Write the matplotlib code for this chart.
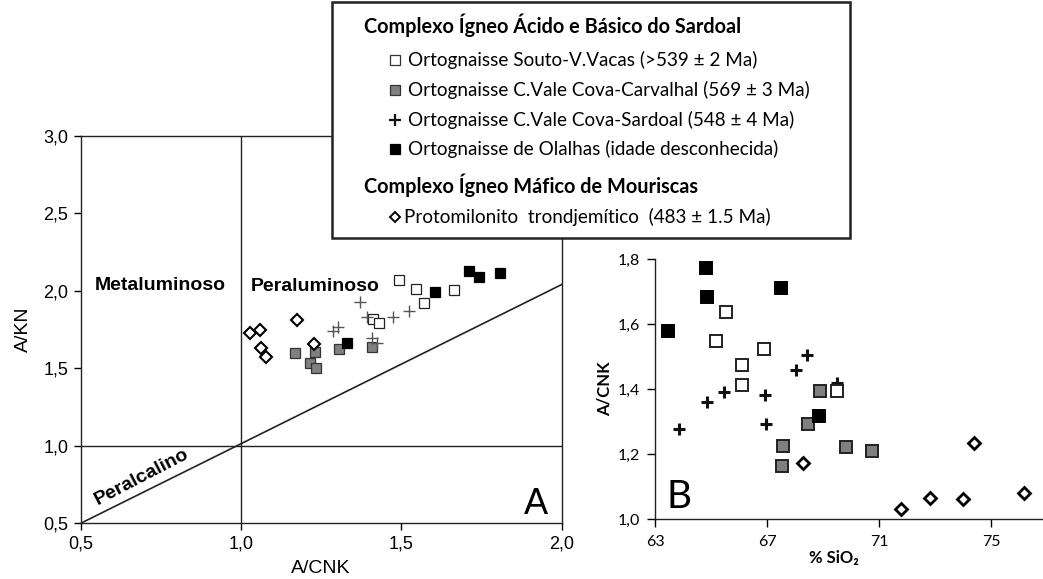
import matplotlib
matplotlib.use("Agg")
import matplotlib.pyplot as plt
from matplotlib.lines import Line2D
from matplotlib.patches import Rectangle

# ---- panel A : A/CNK (x) vs A/KN (y) ----
souto_a_x = [1.494, 1.546, 1.664, 1.572, 1.413, 1.430]
souto_a_y = [2.069, 2.011, 2.003, 1.921, 1.816, 1.794]
carv_a_x = [1.168, 1.230, 1.215, 1.234, 1.307, 1.410]
carv_a_y = [1.596, 1.605, 1.536, 1.502, 1.626, 1.635]
sard_a_x = [1.371, 1.392, 1.475, 1.525, 1.288, 1.301, 1.407, 1.425]
sard_a_y = [1.927, 1.828, 1.828, 1.871, 1.742, 1.768, 1.693, 1.665]
olal_a_x = [1.330, 1.604, 1.711, 1.743, 1.808]
olal_a_y = [1.665, 1.994, 2.129, 2.086, 2.112]
prot_a_x = [1.027, 1.059, 1.063, 1.077, 1.176, 1.229]
prot_a_y = [1.725, 1.745, 1.633, 1.571, 1.811, 1.657]
# peralkaline boundary
bound_x = [0.5, 2.0]
bound_y = [0.5, 2.04]
a_ticks = [0.5, 1.0, 1.5, 2.0]
a_ticklabels = ["0,5", "1,0", "1,5", "2,0"]
a_yticks = [0.5, 1.0, 1.5, 2.0, 2.5, 3.0]
a_yticklabels = ["0,5", "1,0", "1,5", "2,0", "2,5", "3,0"]

# ---- panel B : SiO2 (x) vs A/CNK (y) ----
souto_b_x = [65.54, 65.18, 66.90, 66.10, 66.09, 69.51]
souto_b_y = [1.636, 1.547, 1.523, 1.474, 1.412, 1.395]
carv_b_x = [68.89, 68.46, 67.56, 67.52, 69.80, 70.73]
carv_b_y = [1.393, 1.294, 1.226, 1.163, 1.223, 1.209]
sard_b_x = [63.85, 64.85, 65.48, 66.91, 66.97, 68.04, 68.41, 69.49]
sard_b_y = [1.279, 1.359, 1.392, 1.381, 1.293, 1.460, 1.506, 1.418]
olal_b_x = [64.82, 64.87, 67.48, 63.45, 68.86]
olal_b_y = [1.771, 1.682, 1.711, 1.580, 1.318]
prot_b_x = [68.27, 71.77, 72.82, 74.01, 74.39, 76.18]
prot_b_y = [1.174, 1.033, 1.067, 1.062, 1.236, 1.080]
b_xticks = [63, 67, 71, 75]
b_yticks = [1.0, 1.2, 1.4, 1.6, 1.8]
b_yticklabels = ["1,0", "1,2", "1,4", "1,6", "1,8"]

legend_head1 = "Complexo Ígneo Ácido e Básico do Sardoal"
legend_items1 = ["Ortognaisse Souto-V.Vacas (>539 ± 2 Ma)",
                 "Ortognaisse C.Vale Cova-Carvalhal (569 ± 3 Ma)",
                 "Ortognaisse C.Vale Cova-Sardoal (548 ± 4 Ma)",
                 "Ortognaisse de Olalhas (idade desconhecida)"]
legend_head2 = "Complexo Ígneo Máfico de Mouriscas"
legend_item2 = "Protomilonito  trondjemítico  (483 ± 1.5 Ma)"

ARIAL = "Liberation Sans"
CAL = "Lato"

fig = plt.figure(figsize=(10.43, 5.79), dpi=100)

# ================= panel A =================
axA = fig.add_axes([0.0774, 0.0962, 0.4611, 0.6694])
axA.set_xlim(0.5, 2.0)
axA.set_ylim(0.5, 3.0)
for s in axA.spines.values():
    s.set_linewidth(1.0)
    s.set_color("#222222")
axA.axvline(1.0, color="#222222", lw=1.0)
axA.axhline(1.0, color="#222222", lw=1.0)
axA.plot(bound_x, bound_y, color="#222222", lw=1.2)

sq = dict(ls="none", marker="s", ms=7, mew=0.9)
axA.plot(carv_a_x, carv_a_y, mfc="#808080", mec="#333333", **sq)
axA.plot(souto_a_x, souto_a_y, mfc="white", mec="#222222", **sq)
axA.plot(olal_a_x, olal_a_y, mfc="black", mec="black", **sq)
axA.plot(sard_a_x, sard_a_y, ls="none", marker="+", ms=9, mew=1.0, color="#555555")
axA.plot(prot_a_x, prot_a_y, ls="none", marker="D", ms=6, mew=1.5,
         mfc="white", mec="black")

axA.set_xticks(a_ticks)
axA.set_xticklabels(a_ticklabels, fontfamily=ARIAL, fontsize=13)
axA.set_yticks(a_yticks)
axA.set_yticklabels(a_yticklabels, fontfamily=ARIAL, fontsize=13)
axA.tick_params(direction="out", length=5, width=1, pad=4)
axA.set_xlabel("A/CNK", fontfamily=ARIAL, fontsize=14, labelpad=5)
axA.set_ylabel("A/KN", fontfamily=ARIAL, fontsize=14, labelpad=8)

axA.text(0.545, 2.037, "Metaluminoso", fontfamily=ARIAL, fontweight="bold",
         fontsize=14, ha="left", va="center")
axA.text(1.03, 2.026, "Peraluminoso", fontfamily=ARIAL, fontweight="bold",
         fontsize=14, ha="left", va="center")
axA.text(0.69, 0.80, "Peralcalino", fontfamily=ARIAL, fontweight="bold",
         fontsize=14, ha="center", va="center", rotation=27.5)
axA.text(1.92, 0.62, "A", fontfamily=ARIAL, fontsize=26, ha="center", va="center")

# ================= panel B =================
axB = fig.add_axes([0.628, 0.1031, 0.372, 0.4496])
axB.set_xlim(63, 76.85)
axB.set_ylim(1.0, 1.8)
axB.spines["top"].set_visible(False)
axB.spines["right"].set_visible(False)
for s in ("left", "bottom"):
    axB.spines[s].set_linewidth(1.0)
    axB.spines[s].set_color("#222222")

sqb = dict(ls="none", marker="s", ms=8, mew=1.4)
axB.plot(carv_b_x, carv_b_y, mfc="#808080", mec="#222222", **sqb)
axB.plot(sard_b_x, sard_b_y, ls="none", marker="+", ms=8, mew=2.2, color="#111111")
axB.plot(souto_b_x, souto_b_y, mfc="white", mec="#222222", **sqb)
axB.plot(olal_b_x, olal_b_y, mfc="black", mec="black", **sqb)
axB.plot(prot_b_x, prot_b_y, ls="none", marker="D", ms=6.5, mew=2.0,
         mfc="white", mec="black")

axB.set_xticks(b_xticks)
axB.set_xticklabels([str(v) for v in b_xticks], fontfamily=CAL, fontsize=11.5)
axB.set_yticks(b_yticks)
axB.set_yticklabels(b_yticklabels, fontfamily=CAL, fontsize=11.5)
axB.tick_params(direction="out", length=6, width=1, pad=5)
axB.text(-0.13, 0.5, "A/CNK", transform=axB.transAxes, rotation=90,
         fontfamily=CAL, fontweight="bold", fontsize=12, ha="center", va="center")

W, H = 1043.0, 579.0


def fx(px):
    return px / W


def fy(py):
    return 1 - py / H


fig.text(fx(834), fy(558), "% SiO₂", fontfamily=[CAL, "DejaVu Sans"],
         fontweight="bold", fontsize=12, ha="center", va="center")
axB.text(63.86, 1.069, "B", fontfamily=CAL, fontsize=28, ha="center", va="center")

# ================= legend box =================
box = Rectangle((fx(332), fy(238)), fx(850) - fx(332), fy(2) - fy(238),
                transform=fig.transFigure, facecolor="white",
                edgecolor="#222222", lw=1.8, zorder=10)
fig.add_artist(box)

fig.text(fx(364), fy(25), legend_head1, fontfamily=CAL, fontweight="bold",
         fontsize=14.3, ha="left", va="center", zorder=11)
leg_styles = [
    dict(marker="s", ms=7, mfc="white", mec="#333333", mew=0.9),
    dict(marker="s", ms=7, mfc="#808080", mec="#333333", mew=0.9),
    dict(marker="+", ms=8, mec="#111111", mew=1.6),
    dict(marker="s", ms=7, mfc="black", mec="black", mew=0.9),
]
rows = [60, 90, 120, 149]
for label, st, ry in zip(legend_items1, leg_styles, rows):
    fig.add_artist(Line2D([fx(395)], [fy(ry)], ls="none", transform=fig.transFigure,
                          zorder=11, **st))
    fig.text(fx(408), fy(ry), label, fontfamily=CAL, fontsize=13.6,
             ha="left", va="center", zorder=11)
fig.text(fx(364), fy(185), legend_head2, fontfamily=CAL, fontweight="bold",
         fontsize=14.3, ha="left", va="center", zorder=11)
fig.add_artist(Line2D([fx(395)], [fy(217)], ls="none", marker="D", ms=5.5,
                      mfc="white", mec="black", mew=1.4,
                      transform=fig.transFigure, zorder=11))
fig.text(fx(404), fy(217), legend_item2, fontfamily=CAL, fontsize=13.6,
         ha="left", va="center", zorder=11)

fig.savefig("out.png", dpi=100)
